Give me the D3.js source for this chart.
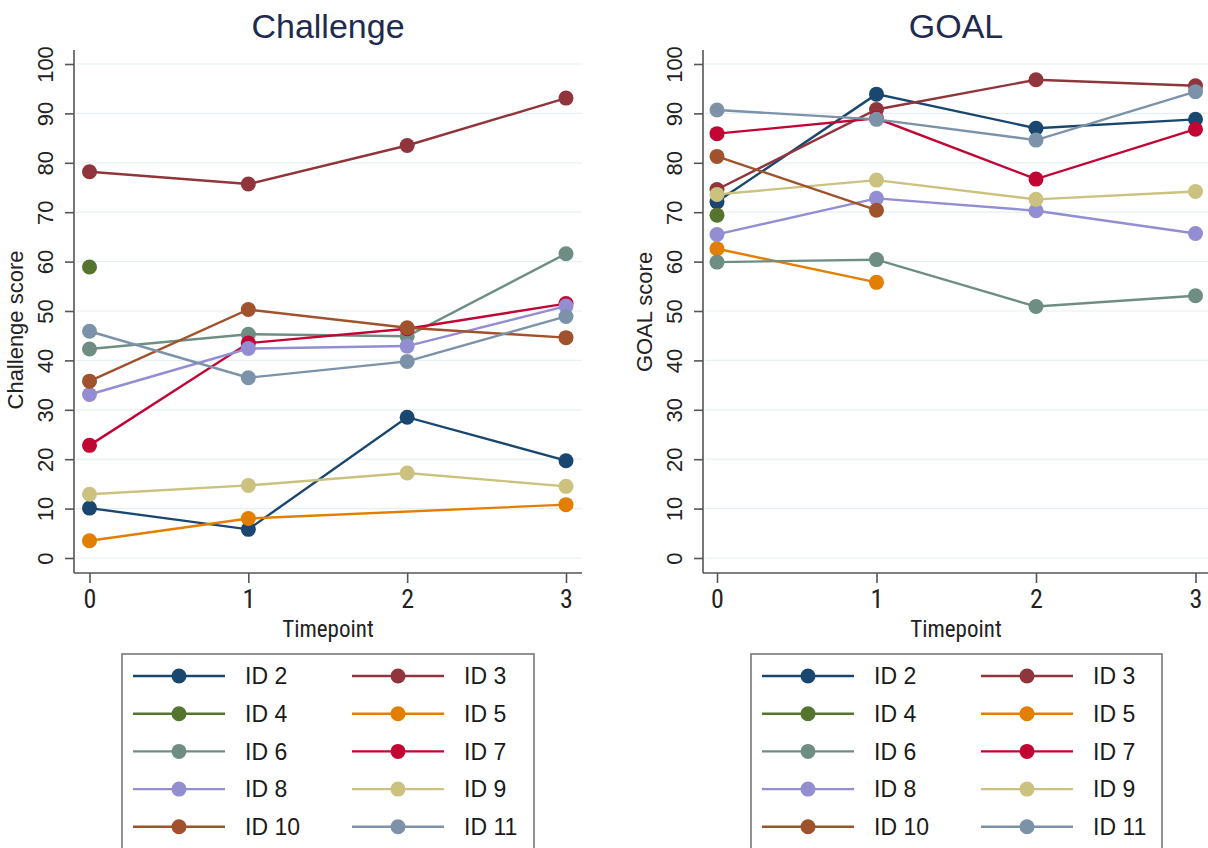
<!DOCTYPE html>
<html>
<head>
<meta charset="utf-8">
<script src="https://cdn.jsdelivr.net/npm/d3@7"></script>
<style>
  body { margin: 0; background: #fff; }
  svg { display: block; font-family: "Liberation Sans", Arial, sans-serif; }
  .grid line { stroke: #e6f0f2; stroke-width: 1.2; }
  .axis path, .axis line { stroke: #555; stroke-width: 1.6; }
  .axis text { fill: #222; }
</style>
</head>
<body>
<div id="chart"></div>
<script>
// Data
const timepoints = [0, 1, 2, 3];
const ids = ["ID 2", "ID 3", "ID 4", "ID 5", "ID 6", "ID 7", "ID 8", "ID 9", "ID 10", "ID 11"];

// Challenge score per ID at timepoints 0..3 (null = missing)
const challenge = [
  [10.1, 5.8, 28.5, 19.7],
  [78.2, 75.7, 83.5, 93.1],
  [58.9, null, null, null],
  [3.5, 8.0, null, 10.8],
  [42.3, 45.3, 44.9, 61.6],
  [22.8, 43.5, 46.4, 51.5],
  [33.1, 42.4, 42.9, 51.0],
  [12.9, 14.7, 17.2, 14.5],
  [35.8, 50.3, 46.6, 44.6],
  [45.9, 36.5, 39.8, 48.9]
];

// GOAL score per ID at timepoints 0..3
const goal = [
  [72.1, 93.9, 87.0, 88.8],
  [74.6, 90.8, 96.8, 95.6],
  [69.4, null, null, null],
  [62.6, 55.8, null, null],
  [59.9, 60.4, 50.9, 53.1],
  [85.9, 89.0, 76.7, 86.8],
  [65.5, 72.8, 70.3, 65.7],
  [73.6, 76.5, 72.6, 74.2],
  [81.3, 70.4, null, null],
  [90.7, 88.8, 84.6, 94.4]
];

const yTicks = [0, 10, 20, 30, 40, 50, 60, 70, 80, 90, 100];

// Stata s2color palette
const palette = ["#1a476f", "#90353b", "#55752f", "#e37e00", "#6e8e84",
                 "#c10534", "#938dd2", "#cac27e", "#a0522d", "#7b92a8"];

const W = 1208, H = 848;
const svg = d3.select("#chart").append("svg")
  .attr("width", W).attr("height", H);

const narrow = "'Liberation Sans Narrow', 'Arial Narrow', 'Roboto Condensed', sans-serif";

function panel(opts) {
  const g = svg.append("g");
  const x = d3.scaleLinear().domain([0, 3]).range([opts.x0, opts.x3]);
  const y = d3.scaleLinear().domain([0, 100]).range([558, 64]);

  // gridlines
  g.append("g").attr("class", "grid")
    .selectAll("line").data(yTicks).join("line")
    .attr("x1", opts.axisX + 2).attr("x2", opts.right)
    .attr("y1", d => y(d)).attr("y2", d => y(d));

  // y axis
  const ya = g.append("g").attr("class", "axis")
    .attr("transform", `translate(${opts.axisX},0)`)
    .call(d3.axisLeft(y).tickValues(yTicks).tickSize(9).tickSizeOuter(0));
  ya.select(".domain").attr("d", `M0,50V${opts.baseY}`);
  ya.selectAll("text")
    .attr("transform", "rotate(-90)")
    .attr("x", 0).attr("y", -29)
    .attr("dy", "0.35em")
    .style("text-anchor", "middle")
    .style("font-size", "22px");

  // x axis
  const xa = g.append("g").attr("class", "axis")
    .attr("transform", `translate(0,${opts.baseY})`)
    .call(d3.axisBottom(x).tickValues(timepoints).tickFormat(d3.format("d")).tickSize(10).tickSizeOuter(0));
  xa.select(".domain").attr("d", `M${opts.axisX},0H${opts.right}`);
  xa.selectAll("text")
    .attr("y", 17)
    .style("font-size", "26px")
    .style("font-family", narrow);

  // titles
  g.append("text")
    .attr("x", opts.titleX).attr("y", 38)
    .attr("text-anchor", "middle")
    .style("font-size", "34px").style("fill", "#1e2b4f")
    .text(opts.title);
  g.append("text")
    .attr("x", opts.titleX).attr("y", 637)
    .attr("text-anchor", "middle")
    .style("font-size", "23px").style("fill", "#222")
    .style("font-family", narrow)
    .text("Timepoint");
  g.append("text")
    .attr("transform", `translate(${opts.axisX - 51},${opts.yTitleY}) rotate(-90)`)
    .attr("text-anchor", "middle")
    .style("font-size", "22px").style("fill", "#222")
    .text(opts.yTitle);

  // series
  const line = d3.line().x(d => x(d.t)).y(d => y(d.v));
  opts.values.forEach((vals, i) => {
    const pts = vals.map((v, t) => ({ t: timepoints[t], v })).filter(d => d.v != null);
    const s = g.append("g");
    s.append("path").datum(pts)
      .attr("d", line)
      .attr("fill", "none")
      .attr("stroke", palette[i])
      .attr("stroke-width", 2.4);
    s.selectAll("circle").data(pts).join("circle")
      .attr("cx", d => x(d.t)).attr("cy", d => y(d.v))
      .attr("r", 7.5)
      .attr("fill", palette[i]);
  });

  // legend
  const lg = g.append("g").attr("transform", `translate(${opts.legX},654)`);
  lg.append("rect")
    .attr("x", 0).attr("y", 0)
    .attr("width", opts.legW).attr("height", 220)
    .attr("fill", "#fff").attr("stroke", "#777").attr("stroke-width", 1.6);
  const item = lg.selectAll(".item").data(ids).join("g")
    .attr("class", "item")
    .attr("transform", (d, i) => `translate(${11 + (i % 2) * 219},${22 + Math.floor(i / 2) * 37.7})`);
  item.append("line")
    .attr("x1", 0).attr("x2", 92)
    .attr("stroke", (d, i) => palette[i]).attr("stroke-width", 2.4);
  item.append("circle")
    .attr("cx", 46).attr("r", 7.5)
    .attr("fill", (d, i) => palette[i]);
  item.append("text")
    .attr("x", 112).attr("dy", "0.36em")
    .style("font-size", "23px").style("fill", "#1a1a1a")
    .text(d => d);
}

panel({
  title: "Challenge", yTitle: "Challenge score", values: challenge,
  axisX: 74, x0: 89.5, x3: 566, right: 582, baseY: 573, titleX: 328,
  yTitleY: 330, legX: 122, legW: 412
});

panel({
  title: "GOAL", yTitle: "GOAL score", values: goal,
  axisX: 703, x0: 717, x3: 1195.5, right: 1212, baseY: 573, titleX: 956,
  yTitleY: 312, legX: 751, legW: 411
});
</script>
</body>
</html>
